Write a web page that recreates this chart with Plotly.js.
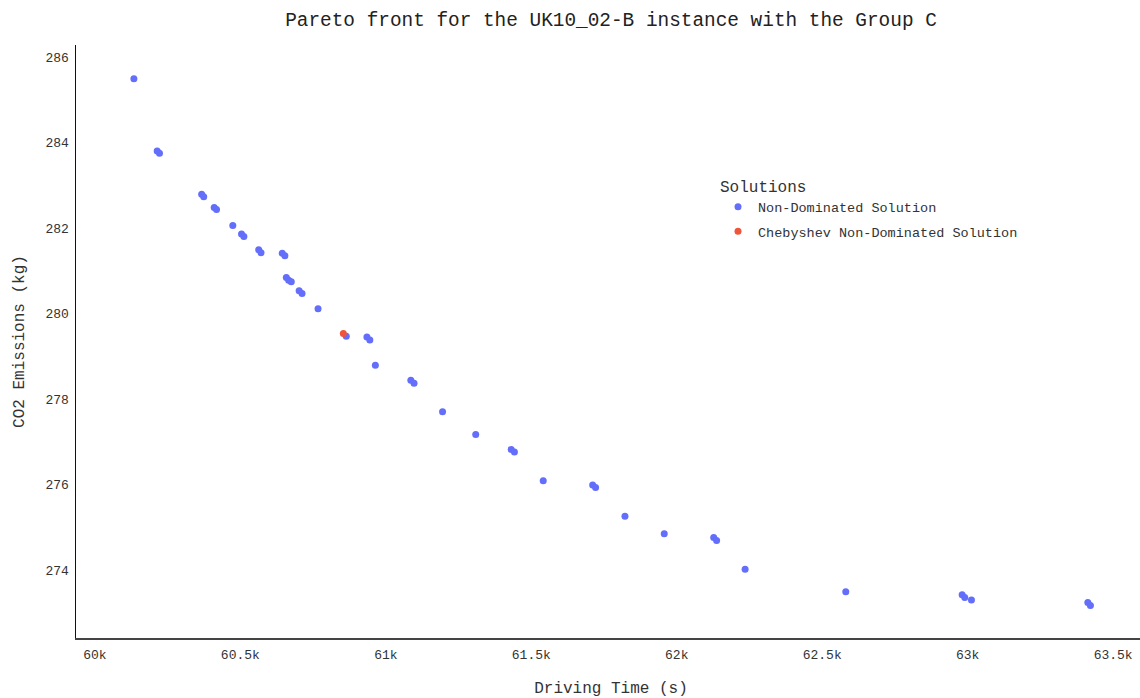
<!DOCTYPE html>
<html>
<head>
<meta charset="utf-8">
<script src="https://cdn.plot.ly/plotly-3.0.1.min.js"></script>
<style>
  html, body { margin: 0; padding: 0; background: #fff; overflow: hidden; }
  #chart { width: 1150px; height: 698px; }
</style>
</head>
<body>
<div id="chart"></div>
<script>
// Non-dominated solutions: driving time (s) vs CO2 emissions (kg)
const drivingTime = [
  60134, 60214, 60222, 60367, 60374, 60410, 60418, 60474, 60504, 60512,
  60563, 60571, 60644, 60653, 60658, 60666, 60675, 60702, 60712, 60767,
  60864, 60935, 60945, 60964, 61086, 61097, 61195, 61309, 61431, 61442,
  61541, 61711, 61721, 61822, 61957, 62127, 62137, 62235, 62581, 62981,
  62990, 63013, 63413, 63422
];
const co2Emissions = [
  285.49, 283.80, 283.75, 282.79, 282.73, 282.48, 282.43, 282.06, 281.86, 281.80,
  281.49, 281.42, 281.41, 281.35, 280.84, 280.78, 280.74, 280.53, 280.47, 280.11,
  279.47, 279.45, 279.38, 278.79, 278.44, 278.37, 277.70, 277.17, 276.82, 276.76,
  276.09, 275.99, 275.93, 275.26, 274.85, 274.76, 274.69, 274.02, 273.49, 273.42,
  273.36, 273.30, 273.24, 273.17
];

// Solution picked by the Chebyshev scalarisation
const chebyshevTime = [60854];
const chebyshevCo2 = [279.53];

const seriesNames = ['Non-Dominated Solution', 'Chebyshev Non-Dominated Solution'];
const xTickValues = [60000, 60500, 61000, 61500, 62000, 62500, 63000, 63500];
const xTickLabels = ['60k', '60.5k', '61k', '61.5k', '62k', '62.5k', '63k', '63.5k'];
const yTickValues = [274, 276, 278, 280, 282, 284, 286];

const mono = '"Courier New", "Liberation Mono", monospace';

const traces = [
  {
    type: 'scatter', mode: 'markers', name: seriesNames[0], legendgroup: 'nd',
    x: drivingTime, y: co2Emissions,
    marker: { color: '#636efa', size: 7 }
  },
  {
    type: 'scatter', mode: 'markers', name: seriesNames[1], legendgroup: 'cheb',
    x: chebyshevTime, y: chebyshevCo2,
    marker: { color: '#EF553B', size: 7 }
  }
];

const layout = {
  width: 1150, height: 698,
  margin: { l: 76, r: 4, t: 45, b: 60 },
  paper_bgcolor: '#fff', plot_bgcolor: '#fff',
  font: { family: mono, color: '#333', size: 13 },
  title: {
    text: 'Pareto front for the UK10_02-B instance with the Group C',
    font: { family: mono, size: 19.4, color: '#222' },
    x: 0.5, xref: 'paper', y: 0.972, yref: 'container', yanchor: 'middle'
  },
  xaxis: {
    range: [59935, 63613],
    tickvals: xTickValues, ticktext: xTickLabels,
    showgrid: false, zeroline: false,
    showline: true, linecolor: '#444', linewidth: 1.5,
    ticks: '', ticklabelstandoff: 4, tickfont: { size: 13, color: '#333' },
    title: { text: 'Driving Time (s)', font: { size: 16, color: '#333' }, standoff: 20 }
  },
  yaxis: {
    range: [272.41, 286.28],
    tickvals: yTickValues,
    showgrid: false, zeroline: false,
    showline: true, linecolor: '#111', linewidth: 1.5,
    ticks: '', ticklabelstandoff: 3, tickfont: { size: 13, color: '#333' },
    title: { text: 'CO2 Emissions (kg)', font: { size: 16, color: '#333' }, standoff: 17 }
  },
  legend: {
    title: { text: 'Solutions', font: { size: 16, color: '#333' } },
    font: { size: 13.5, color: '#333' },
    traceorder: 'grouped', tracegroupgap: 4,
    x: 0.6, y: 0.788, xanchor: 'left', yanchor: 'top',
    bgcolor: 'rgba(0,0,0,0)'
  },
  showlegend: true
};

Plotly.newPlot('chart', traces, layout, { displayModeBar: false, staticPlot: true });
</script>
</body>
</html>
